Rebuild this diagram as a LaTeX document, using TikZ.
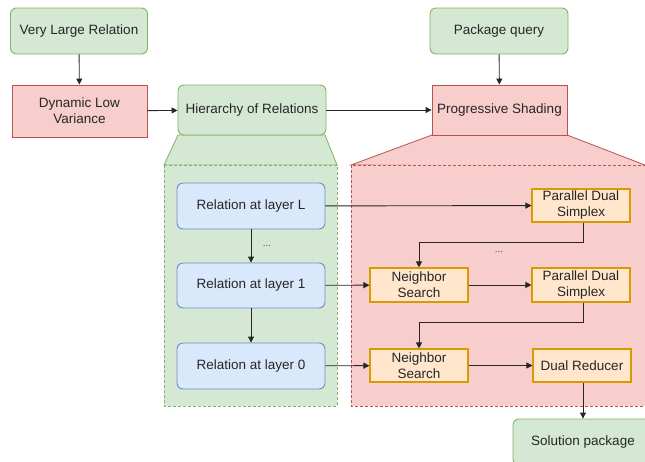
\documentclass[tikz,border=0pt]{standalone}
\usepackage{fontspec}
\setmainfont{Liberation Sans}
\usetikzlibrary{arrows.meta}
\definecolor{gfill}{HTML}{D5E8D4}\definecolor{gdraw}{HTML}{82B366}
\definecolor{rfill}{HTML}{F8CECC}\definecolor{rdraw}{HTML}{B85450}
\definecolor{bfill}{HTML}{DAE8FC}\definecolor{bdraw}{HTML}{6C8EBF}
\definecolor{ofill}{HTML}{FFE6CC}\definecolor{odraw}{HTML}{D79B00}
\tikzset{
  base/.style={inner sep=0pt, align=center, font=\fontsize{13.5}{16}\selectfont, text=black!85, line width=0.9pt},
  gbox/.style={base, fill=gfill, draw=gdraw, rounded corners=6pt},
  rbox/.style={base, fill=rfill, draw=rdraw},
  bbox/.style={base, fill=bfill, draw=bdraw, rounded corners=6pt},
  obox/.style={base, fill=ofill, draw=odraw, line width=1.1pt},
  arr/.style={draw=black!85, line width=0.9pt, -{Triangle[length=6pt,width=6pt]}},
  cont/.style={dashed, dash pattern=on 3pt off 2pt, line width=0.8pt},
  dots/.style={font=\fontsize{10}{10}\selectfont, text=black!70},
}
\begin{document}
\begin{tikzpicture}[x=1pt,y=-1pt]
\useasboundingbox (0,0) rectangle (645,461);
\clip (0,0) rectangle (645,461);
% containers
\draw[fill=gfill, draw=gdraw, line width=0.8pt] (178,135) -- (325,135) -- (337,165) -- (164,165) -- cycle;
\draw[cont, fill=gfill, draw=gdraw] (164,165) rectangle (337,406);
\draw[fill=rfill, draw=rdraw, line width=0.8pt] (432,135) -- (567,135) -- (650,167) -- (351,165) -- cycle;
\draw[cont, fill=rfill, draw=rdraw] (351,165) rectangle (660,406);
% top nodes
\node[gbox, minimum width=137pt, minimum height=46pt] (vlr) at (79,31) {Very Large Relation};
\node[rbox, minimum width=135pt, minimum height=52pt] (dlv) at (79.5,111) {Dynamic Low\\Variance};
\node[gbox, minimum width=148pt, minimum height=50pt] (hor) at (252,110) {Hierarchy of Relations};
\node[gbox, minimum width=138pt, minimum height=46pt] (pq) at (499,31) {Package query};
\node[rbox, minimum width=135pt, minimum height=50pt] (ps) at (499.5,110) {Progressive Shading};
% layers
\node[bbox, minimum width=148pt, minimum height=46pt] (rl) at (251,206) {Relation at layer L};
\node[bbox, minimum width=148pt, minimum height=45pt] (r1) at (251,285.5) {Relation at layer 1};
\node[bbox, minimum width=148pt, minimum height=46pt] (r0) at (251,366) {Relation at layer 0};
\node[dots] (dotsl) at (267,246) {...};
% right side
\node[obox, minimum width=98pt, minimum height=33pt] (pds1) at (581,205.5) {Parallel Dual\\Simplex};
\node[obox, minimum width=98pt, minimum height=34pt] (ns1) at (419,285) {Neighbor\\Search};
\node[obox, minimum width=98pt, minimum height=34pt] (pds2) at (581,285) {Parallel Dual\\Simplex};
\node[obox, minimum width=98pt, minimum height=33pt] (ns2) at (419,365.5) {Neighbor\\Search};
\node[obox, minimum width=98pt, minimum height=33pt] (dr) at (582,365.5) {Dual Reducer};
\node[dots] (dotsr) at (499,252) {...};
\node[gbox, minimum width=140pt, minimum height=46pt] (sp) at (583,442) {Solution package};
% arrows
\draw[arr] (vlr) -- (dlv);
\draw[arr] (dlv) -- (hor);
\draw[arr] (hor) -- (ps);
\draw[arr] (pq) -- (ps);
\draw[arr] (rl) -- (r1);
\draw[arr] (r1) -- (r0);
\draw[arr] (rl) -- (pds1);
\draw[arr] (r1) -- (ns1);
\draw[arr] (r0) -- (ns2);
\draw[arr] (ns1) -- (pds2);
\draw[arr] (ns2) -- (dr);
\draw[arr] (pds1.south -| 583,0) |- (419,242) -- (ns1.north);
\draw[arr] (pds2.south -| 583,0) |- (419,322) -- (ns2.north);
\draw[arr] (dr.south -| 583,0) -- (sp.north -| 583,0);
\end{tikzpicture}
\end{document}
